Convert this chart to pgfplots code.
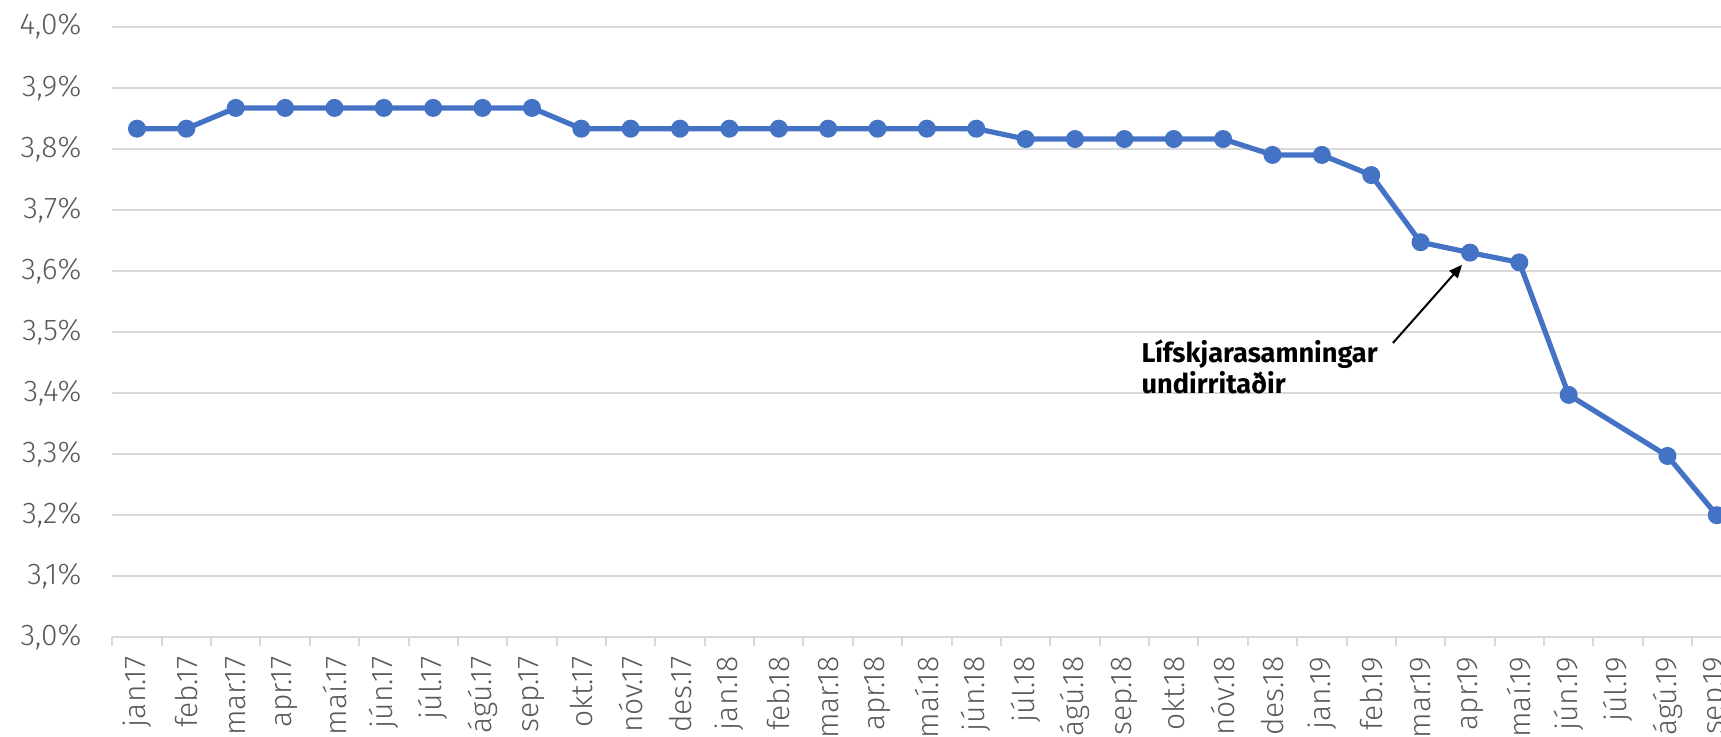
\documentclass[border=0pt]{standalone}
\usepackage{fontspec}
\setmainfont{Fira Sans Light}
\newfontfamily\annfont{Fira Sans}
\usepackage{pgfplots}
\pgfplotsset{compat=1.18}
\usetikzlibrary{arrows.meta}
\definecolor{lineblue}{HTML}{4472C4}
\definecolor{gridgray}{HTML}{D9D9D9}
\definecolor{labgray}{HTML}{595959}
\begin{document}
\begin{tikzpicture}
\begin{axis}[
  at={(0,0)}, anchor=south west,
  scale only axis, width=814.6pt, height=305.3pt,
  xmin=-0.5, xmax=32.5, ymin=3.0, ymax=4.0,
  axis x line*=bottom, axis y line*=left,
  x axis line style={-, draw=gridgray, line width=1pt},
  y axis line style={draw=none},
  ymajorgrids, grid style={draw=gridgray, line width=1pt},
  ytick={3.0,3.1,3.2,3.3,3.4,3.5,3.6,3.7,3.8,3.9,4.0},
  yticklabels={{3,0\%},{3,1\%},{3,2\%},{3,3\%},{3,4\%},{3,5\%},{3,6\%},{3,7\%},{3,8\%},{3,9\%},{4,0\%}},
  ytick style={draw=none},
  yticklabel style={anchor=east, inner sep=0pt, xshift=-15.3pt},
  xtick={0,...,32},
  xticklabels={jan.17,feb.17,mar.17,apr.17,maí.17,jún.17,júl.17,ágú.17,sep.17,okt.17,nóv.17,des.17,jan.18,feb.18,mar.18,apr.18,maí.18,jún.18,júl.18,ágú.18,sep.18,okt.18,nóv.18,des.18,jan.19,feb.19,mar.19,apr.19,maí.19,jún.19,júl.19,ágú.19,sep.19},
  xtick style={draw=none},
  xticklabel style={yshift=-9.5pt, rotate=90, anchor=east, inner sep=0pt},
  extra x ticks={-0.5,0.5,...,32.5},
  extra x tick labels={},
  extra x tick style={xmajorgrids=false, tick align=outside, major tick length=4.5pt, xtick style={draw=gridgray, line width=1pt}},
  ticklabel style={font=\fontsize{15}{18}\selectfont, text=labgray},
  clip=false,
]
\addplot[color=lineblue, line width=2.6pt, mark=*, mark size=4pt, mark options={solid, fill=lineblue, draw=lineblue, line width=1pt}]
coordinates {
(0,3.833)(1,3.833)(2,3.867)(3,3.867)(4,3.867)(5,3.867)(6,3.867)(7,3.867)(8,3.867)
(9,3.833)(10,3.833)(11,3.833)(12,3.833)(13,3.833)(14,3.833)(15,3.833)(16,3.833)(17,3.833)
(18,3.816)(19,3.816)(20,3.816)(21,3.816)(22,3.816)
(23,3.790)(24,3.790)(25,3.757)(26,3.647)(27,3.630)(28,3.614)(29,3.397)(31,3.297)(32,3.200)
};
\node[anchor=north west, inner sep=0pt, align=left, font={\annfont\bfseries\fontsize{13.6}{15.5}\selectfont}] at (axis cs:20.34,3.4885) {Lífskjarasamningar\\undirritaðir};
\draw[-{Triangle[length=6.5pt,width=5.5pt]}, line width=1pt] (axis cs:25.44,3.482) -- (axis cs:26.84,3.610);
\end{axis}
\pgfresetboundingbox
\useasboundingbox (-56.15pt,-49.35pt) rectangle (804.35pt,318.65pt);
\end{tikzpicture}
\end{document}
